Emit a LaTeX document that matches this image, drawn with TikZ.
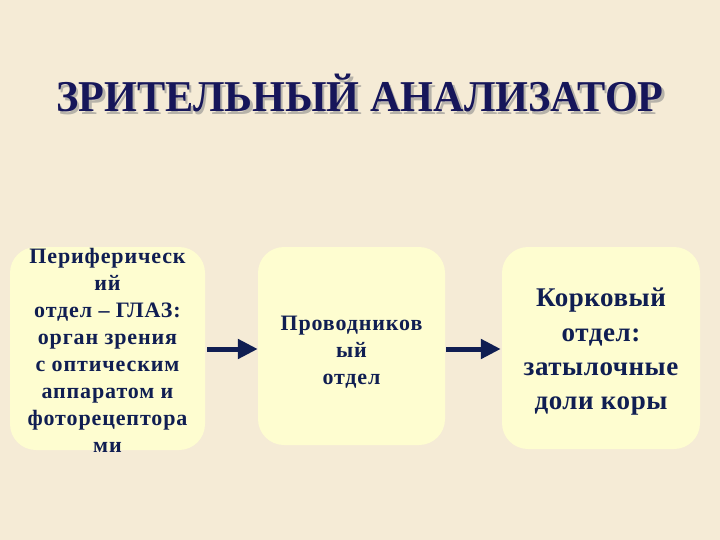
\documentclass[tikz,border=0pt]{standalone}
\usepackage{fontspec}
\setmainfont{Liberation Serif}
\usetikzlibrary{arrows.meta}
\definecolor{bg}{RGB}{245,235,214}
\definecolor{boxfill}{RGB}{254,253,208}
\definecolor{navy}{RGB}{16,30,82}
\definecolor{titlecol}{RGB}{22,22,90}
\tikzset{
  box/.style={fill=boxfill, draw=none, rounded corners=26pt, inner sep=0pt},
  txt/.style={align=center, text=navy, font=\bfseries\fontsize{22}{27}\selectfont\addfontfeatures{LetterSpace=4}, inner sep=0pt},
  bigtxt/.style={align=center, text=navy, font=\bfseries\fontsize{27}{34.3}\selectfont\addfontfeatures{LetterSpace=2}, inner sep=0pt},
  arr/.style={draw=navy, line width=5pt, -{Triangle[length=20pt,width=19pt]}},
  ttl/.style={font=\bfseries\fontsize{44}{48}\selectfont, xscale=0.96},
}
\begin{document}
\begin{tikzpicture}[x=1pt,y=-1pt]
\fill[bg] (0,0) rectangle (720,540);
\useasboundingbox (0,0) rectangle (720,540);
% title
\node[ttl, text=black!45, opacity=0.6] (tshadow) at (362.5,96) {ЗРИТЕЛЬНЫЙ АНАЛИЗАТОР};
\node[ttl, text=titlecol] (title) at (360,93) {ЗРИТЕЛЬНЫЙ АНАЛИЗАТОР};
% boxes
\node[box, minimum width=195pt, minimum height=203pt] (b1) at (107.5,348.5) {};
\node[box, minimum width=187pt, minimum height=198pt] (b2) at (351.5,346) {};
\node[box, minimum width=198pt, minimum height=202pt] (b3) at (601,348) {};
% texts
\node[txt] (t1) at (107.5,350) {Периферическ\\ий\\отдел – ГЛАЗ:\\орган зрения\\с оптическим\\аппаратом и\\фоторецептора\\ми};
\node[txt] (t2) at (351.5,352) {Проводников\\ый\\отдел};
\node[bigtxt] (t3) at (601,352) {Корковый\\отдел:\\затылочные\\доли коры};
% arrows
\coordinate (ay) at (0,349);
\draw[arr] ([xshift=2pt]b1.east |- ay) -- (b2.west |- ay);
\draw[arr] ([xshift=1pt]b2.east |- ay) -- ([xshift=-1pt]b3.west |- ay);
\end{tikzpicture}
\end{document}
